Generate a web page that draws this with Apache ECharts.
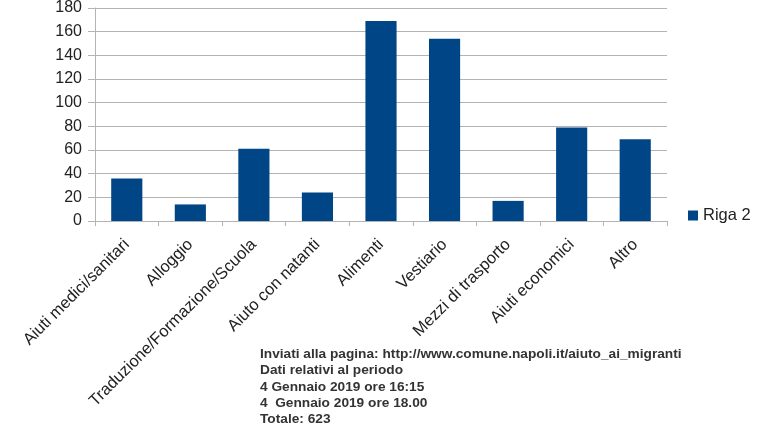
<!DOCTYPE html>
<html>
<head>
<meta charset="utf-8">
<script src="https://cdn.jsdelivr.net/npm/echarts@6/dist/echarts.min.js"></script>
<style>
    html, body { margin: 0; padding: 0; background: #fff; }
    #chart { width: 767px; height: 431px; }
</style>
</head>
<body>
<div id="chart"></div>
<script>
var categories = ['Aiuti medici/sanitari', 'Alloggio', 'Traduzione/Formazione/Scuola',
    'Aiuto con natanti', 'Alimenti', 'Vestiario', 'Mezzi di trasporto',
    'Aiuti economici', 'Altro'];
var riga2 = [36, 14, 61, 24, 169, 154, 17, 79, 69];
var noteLines = [
    'Inviati alla pagina: http://www.comune.napoli.it/aiuto_ai_migranti',
    'Dati relativi al periodo',
    '4 Gennaio 2019 ore 16:15',
    '4  Gennaio 2019 ore 18.00',
    'Totale: 623'
];

var myChart = echarts.init(document.getElementById('chart'));
myChart.setOption({
    animation: false,
    textStyle: { fontFamily: 'Liberation Sans' },
    grid: {
        left: 95,
        right: 100,
        top: 8,
        bottom: 210
    },
    legend: {
        data: ['Riga 2'],
        icon: 'rect',
        left: 688,
        top: 207,
        padding: 0,
        itemWidth: 10,
        itemHeight: 10,
        textStyle: { fontSize: 16.5, color: '#222', fontFamily: 'Liberation Sans' }
    },
    xAxis: {
        type: 'category',
        data: categories,
        axisLine: { lineStyle: { color: '#b3b3b3', width: 1 } },
        axisTick: { show: true, length: 5, lineStyle: { color: '#b3b3b3' } },
        axisLabel: {
            rotate: 45,
            interval: 0,
            margin: 21,
            fontSize: 16.5,
            color: '#222'
        }
    },
    yAxis: {
        type: 'value',
        min: 0,
        max: 180,
        interval: 20,
        axisLine: { show: true, lineStyle: { color: '#b3b3b3' } },
        axisTick: { show: true, length: 7, lineStyle: { color: '#b3b3b3' } },
        splitLine: { lineStyle: { color: '#b3b3b3', width: 1 } },
        axisLabel: { fontSize: 16, color: '#222', margin: 13 }
    },
    graphic: [{
        type: 'text',
        left: 260,
        top: 346,
        style: {
            text: noteLines.join('\n'),
            font: 'bold 13.7px "Liberation Sans"',
            lineHeight: 16.3,
            fill: '#333'
        }
    }],
    series: [{
        name: 'Riga 2',
        type: 'bar',
        barWidth: '49%',
        itemStyle: { color: '#004586' },
        data: riga2
    }]
});
</script>
</body>
</html>
